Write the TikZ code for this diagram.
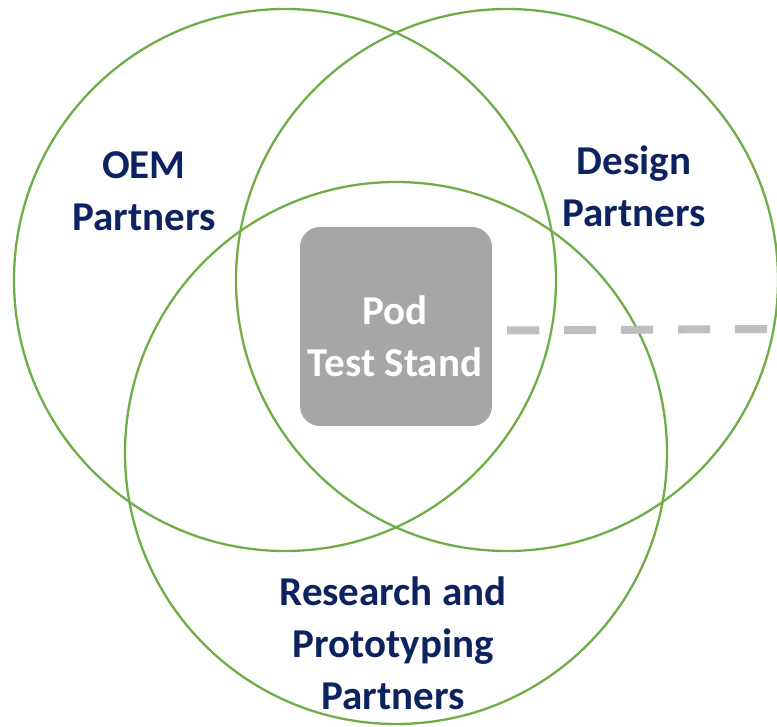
\documentclass[tikz,border=0pt]{standalone}
\usepackage{fontspec}
\setmainfont{Carlito}
\usepackage{tikz}

\definecolor{vennGreen}{RGB}{112,173,71}
\definecolor{labelBlue}{RGB}{13,34,96}
\definecolor{boxGray}{RGB}{166,166,166}
\definecolor{dashGray}{RGB}{191,191,191}

\begin{document}
\begin{tikzpicture}[x = 1pt, y = -1pt,
                    ring/.style = {circle, draw = vennGreen, line width = 2.3pt, minimum size = 542pt, inner sep = 0pt},
                    group/.style = {text = labelBlue, font = \fontsize{41}{52}\selectfont\bfseries, align = center},
                    standbox/.style = {rectangle, rounded corners = 20pt, fill = boxGray, minimum width = 192pt, minimum height = 199pt},
                    standtext/.style = {text = white, font = \fontsize{41}{52}\selectfont\bfseries, align = center},
                    link/.style = {draw = dashGray, line width = 8pt, dash pattern = on 32pt off 25pt}]
  \useasboundingbox (0, 0) rectangle (777, 727);
  \node [ring] (OEM) at (285, 280) {};
  \node [ring] (D) at (507, 280) {};
  \node [ring] (R) at (396, 453) {};
  \node [standbox] (S) at (396, 326.5) {};
  \node [standtext] (ST) at (395, 336) {Pod\\Test Stand};
  \node [group] (LO) at (144, 191) {OEM\\Partners};
  \node [group] (LD) at (634, 186) {Design\\Partners};
  \node [group] (LR) at (393, 643) {Research and\\Prototyping\\Partners};
  \coordinate (E) at (777, 329);
  \draw [link, shorten <= 15pt] (S.east) ++(0, 4) -- (E);
\end{tikzpicture}
\end{document}
